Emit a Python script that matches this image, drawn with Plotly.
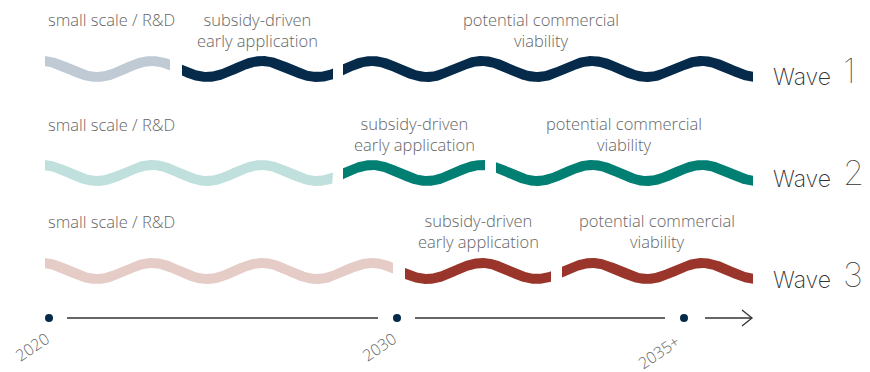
import numpy as np
import plotly.graph_objects as go

# ---------------- data ----------------
WAVE_NAMES = ["Wave", "Wave", "Wave"]
WAVE_NUMBERS = ["1", "2", "3"]
STAGES = ["small scale / R&D", "subsidy-driven<br>early application", "potential commercial<br>viability"]

# schematic timeline positions (axis units) of each wave's stage segments
wave1_segments = [(45, 170), (182, 333), (343, 753)]
wave2_segments = [(45, 333), (343, 485), (496, 753)]
wave3_segments = [(45, 393), (405, 551), (562, 753)]

# where each stage label sits along the timeline (left edge for the first, centre for the others)
wave1_label_x = [46, 257, 541]
wave2_label_x = [46, 414, 624]
wave3_label_x = [46, 478, 657]

TIMELINE_YEARS = ["2020", "2030", "2035+"]
TIMELINE_POS = [49, 397, 684]

# styling
wave_rows = [69, 173, 271]
label_rows = [(19, 29.5), (124, 133.5), (221, 231)]
wave_name_y = [76.5, 178.5, 280]
wave_num_y = [70.5, 172.5, 274.5]
stage_colors = [
    ["#bfcad5", "#062a4a", "#062a4a"],
    ["#bfe0dc", "#007f72", "#007f72"],
    ["#e6ccc7", "#9a352b", "#9a352b"],
]
PERIOD = 110.0
PEAK0 = 42.0
AMP = 8.0
THICK = 10.0
TEXT_COLOR = "#666666"
FONT = "Open Sans"
PAGE_OFFSET = 8  # default body margin of the html page

fig = go.Figure()


def band(x0, x1, yc):
    xe = np.linspace(x0 - 15, x1 + 15, 800)
    k = 2 * np.pi / PERIOD
    y = yc - AMP * np.cos(k * (xe - PEAK0))
    dy = AMP * k * np.sin(k * (xe - PEAK0))
    s = np.sqrt(1 + dy ** 2)
    h = THICK / 2
    ux, uy = xe + dy * h / s, y - h / s
    lx, ly = xe - dy * h / s, y + h / s
    xs = np.linspace(x0, x1, 400)
    up = np.interp(xs, ux, uy)
    lo = np.interp(xs, lx, ly)
    X = np.concatenate([xs, xs[::-1], xs[:1]])
    Y = np.concatenate([up, lo[::-1], up[:1]])
    return X, Y


all_segments = [wave1_segments, wave2_segments, wave3_segments]
all_label_x = [wave1_label_x, wave2_label_x, wave3_label_x]

for w, segs in enumerate(all_segments):
    for s, (a, b) in enumerate(segs):
        X, Y = band(a, b, wave_rows[w])
        fig.add_trace(go.Scatter(x=X, y=Y, mode="lines", fill="toself",
                                 fillcolor=stage_colors[w][s], line=dict(width=0),
                                 hoverinfo="skip", showlegend=False))
    # stage labels
    for s, lx in enumerate(all_label_x[w]):
        two = "<br>" in STAGES[s]
        fig.add_annotation(x=lx, y=label_rows[w][1] if two else label_rows[w][0],
                           text=STAGES[s], showarrow=False,
                           xanchor="left" if s == 0 else "center", yanchor="middle",
                           font=dict(family=FONT, size=16.5, color=TEXT_COLOR, weight=300))
    # wave label
    fig.add_annotation(x=773, y=wave_name_y[w], text=WAVE_NAMES[w], showarrow=False,
                       xanchor="left", yanchor="middle", xshift=-2,
                       font=dict(family="Inter", size=23, color="#333333", weight=200))
    fig.add_annotation(x=843, y=wave_num_y[w], text=WAVE_NUMBERS[w], showarrow=False,
                       xanchor="left", yanchor="middle", xshift=-2,
                       font=dict(family="Inter", size=34, color="#333333", weight=100))

# timeline
ty = 318
line_x = []
line_y = []
for i in range(len(TIMELINE_POS) - 1):
    line_x += [TIMELINE_POS[i] + 18, TIMELINE_POS[i + 1] - 19, None]
    line_y += [ty, ty, None]
line_x += [TIMELINE_POS[-1] + 21, 752, None]
line_y += [ty, ty, None]
fig.add_trace(go.Scatter(x=line_x, y=line_y, mode="lines", line=dict(color="#333333", width=1.3),
                         hoverinfo="skip", showlegend=False))
# arrow head
fig.add_trace(go.Scatter(x=[742, 752, 742], y=[ty - 8, ty, ty + 8], mode="lines",
                         line=dict(color="#333333", width=1.3), hoverinfo="skip", showlegend=False))
fig.add_trace(go.Scatter(x=TIMELINE_POS, y=[ty] * len(TIMELINE_POS), mode="markers",
                         marker=dict(color="#062a4a", size=8), hoverinfo="skip", showlegend=False))
year_offsets = [(-17, 29), (-18, 29), (-25, 34)]
for i, yr in enumerate(TIMELINE_YEARS):
    fig.add_annotation(x=TIMELINE_POS[i] + year_offsets[i][0], y=ty + year_offsets[i][1], text=yr,
                       showarrow=False, textangle=-34, xanchor="center", yanchor="middle",
                       font=dict(family=FONT, size=16, color=TEXT_COLOR, weight=300))

fig.update_layout(width=870 - PAGE_OFFSET, height=372 - PAGE_OFFSET,
                  margin=dict(l=0, r=0, t=0, b=0),
                  paper_bgcolor="white", plot_bgcolor="white",
                  xaxis=dict(range=[PAGE_OFFSET, 870], visible=False, fixedrange=True),
                  yaxis=dict(range=[372, PAGE_OFFSET], visible=False, fixedrange=True))
fig.write_html("out.html")
